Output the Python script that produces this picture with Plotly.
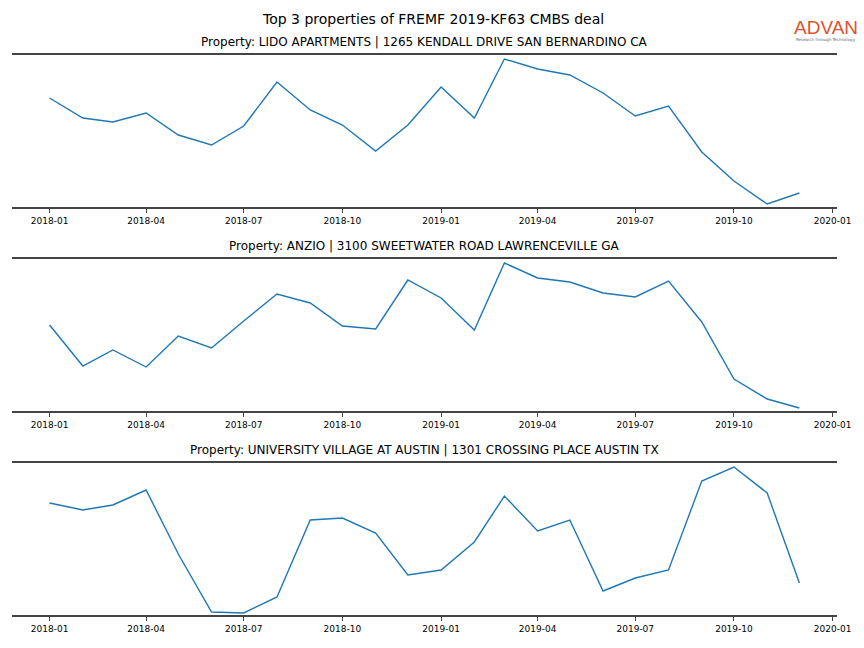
import plotly.graph_objects as go
import pandas as pd

months = pd.date_range("2018-01-01", "2019-12-01", freq="MS")

titles = [
    "Property: LIDO APARTMENTS | 1265 KENDALL DRIVE SAN BERNARDINO CA",
    "Property: ANZIO | 3100 SWEETWATER ROAD LAWRENCEVILLE GA",
    "Property: UNIVERSITY VILLAGE AT AUSTIN | 1301 CROSSING PLACE AUSTIN TX",
]

lido = [109, 89, 85, 94, 72, 62, 81, 125, 97, 82, 56, 82,
        120, 89, 148, 138, 132, 114, 91, 101, 55, 26, 3, 14]
anzio = [86, 45, 61, 44, 75, 63, 90, 117, 108, 85, 82, 131,
         113, 81, 148, 133, 129, 118, 114, 130, 89, 32, 12, 3]
austin = [112, 105, 110, 125, 61, 3, 2, 18, 95, 97, 82, 40,
          45, 73, 119, 84, 95, 24, 37, 45, 134, 148, 122, 32]

series = [lido, anzio, austin]

# Observed: the viewer maps a layout of width L onto roughly L-16 pixels,
# so the layout is made 880 wide and positions are given in 864-pixel terms.
REF_W, H = 864, 648
LAYOUT_W = 880


def fx(px):
    return px / REF_W


def fy(py):
    return (H - py) / H


# panel pixel extents (top spine, bottom spine)
panels = [(55, 207), (259, 411), (463, 615)]
x0, x1 = 12, 835

fig = go.Figure()
for i, (vals, (top, bot)) in enumerate(zip(series, panels), start=1):
    fig.add_trace(go.Scatter(
        x=months, y=vals, mode="lines",
        line=dict(color="#1f77b4", width=1.4),
        xaxis=f"x{i}", yaxis=f"y{i}", showlegend=False,
    ))
    xa = dict(
        domain=[fx(x0), fx(x1)], anchor=f"y{i}",
        range=["2017-11-27", "2020-01-05"],
        tickmode="array",
        tickvals=pd.date_range("2018-01-01", "2020-01-01", freq="3MS"),
        tickformat="%Y-%m",
        ticks="outside", ticklen=4, tickwidth=1, tickcolor="#444",
        showline=True, linecolor="#444", linewidth=2, mirror=True,
        showgrid=False, zeroline=False,
        tickfont=dict(family="DejaVu Sans", size=9, color="black"),
    )
    ya = dict(
        domain=[fy(bot), fy(top)], anchor=f"x{i}",
        range=[0, 152], showticklabels=False, ticks="",
        showgrid=False, zeroline=False, showline=False,
    )
    fig.layout[f"xaxis{i}"] = xa
    fig.layout[f"yaxis{i}"] = ya
    fig.add_annotation(
        x=fx((x0 + x1) / 2), y=fy(top - 13), xref="paper", yref="paper",
        text=titles[i - 1], showarrow=False, xanchor="center", yanchor="middle",
        font=dict(family="DejaVu Sans", size=12, color="black"),
    )

fig.add_annotation(
    x=fx(432), y=fy(19), xref="paper", yref="paper",
    text="Top 3 properties of FREMF 2019-KF63 CMBS deal", showarrow=False,
    xanchor="center", yanchor="middle",
    font=dict(family="DejaVu Sans", size=14, color="black"),
)
# logo
fig.add_annotation(
    x=fx(824), y=fy(28), xref="paper", yref="paper",
    text="ADVAN", showarrow=False, xanchor="center", yanchor="middle",
    font=dict(family="Liberation Sans", size=19, color="#e0522a"),
)
fig.add_annotation(
    x=fx(824), y=fy(39), xref="paper", yref="paper",
    text="Research through Technology", showarrow=False, xanchor="center", yanchor="middle",
    font=dict(family="DejaVu Sans", size=4, color="#666"),
)

fig.update_layout(
    width=LAYOUT_W, height=H, autosize=False, margin=dict(l=0, r=0, t=0, b=0),
    paper_bgcolor="white", plot_bgcolor="white",
)

fig.write_html(
    "out.html",
    config={"responsive": False, "displayModeBar": False},
    post_script=(
        "document.documentElement.style.overflow='hidden';"
        "document.body.style.margin='0';document.body.style.padding='0';"
        "document.body.style.overflow='hidden';"
    ),
)
